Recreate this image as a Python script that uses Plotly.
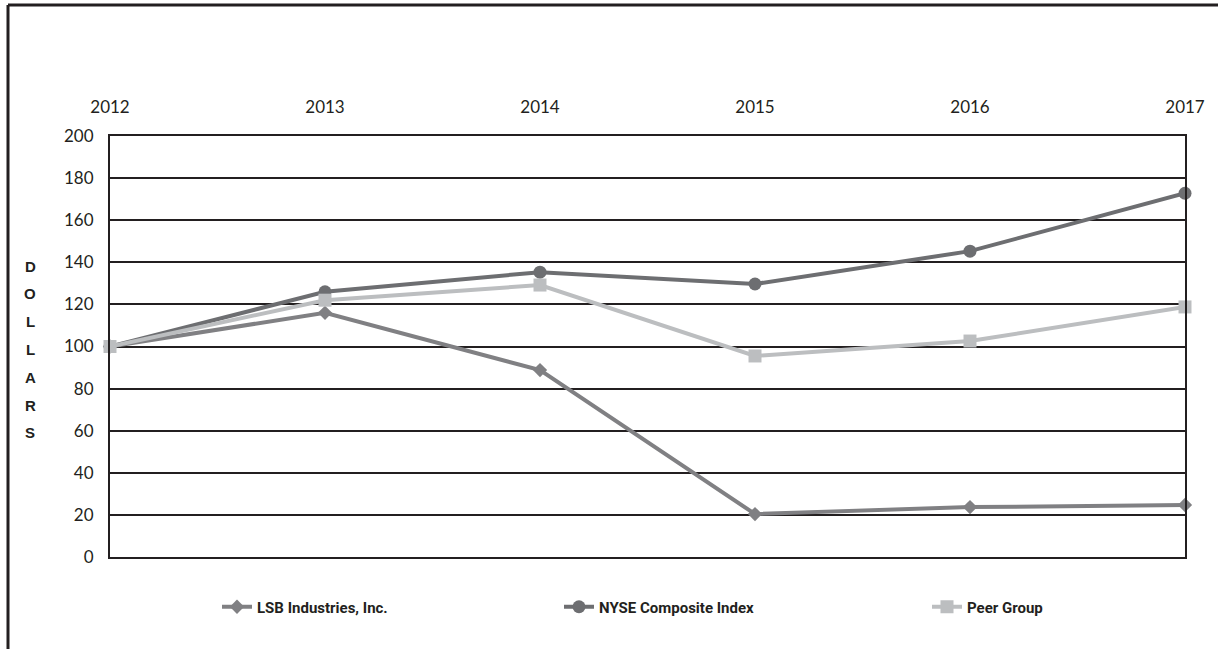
import plotly.graph_objects as go

years = [2012, 2013, 2014, 2015, 2016, 2017]
lsb = [100, 116, 88.8, 20.4, 23.7, 24.7]
nyse = [100, 126, 135.3, 129.7, 145.3, 172.8]
peer = [100, 122, 129.2, 95.5, 102.6, 118.8]
y_ticks = [0, 20, 40, 60, 80, 100, 120, 140, 160, 180, 200]
axis_label = "DOLLARS"

W, H = 1218, 649
ML, MR, MT, MB = 110, 33, 136, 92
PW, PH = W - ML - MR, H - MT - MB

def px_x(px):
    return (px - ML) / PW

def px_y(py):
    return (H - MB - py) / PH

dark = "#231f20"
fig = go.Figure()
fig.add_trace(go.Scatter(x=years, y=lsb, name="LSB Industries, Inc.", mode="lines+markers",
                         line=dict(color="#808083", width=4),
                         marker=dict(symbol="diamond", size=11, color="#808083"),
                         cliponaxis=False, legend="legend", showlegend=True))
fig.add_trace(go.Scatter(x=years, y=nyse, name="NYSE Composite Index", mode="lines+markers",
                         line=dict(color="#6d6e71", width=4),
                         marker=dict(symbol="circle", size=13, color="#6d6e71"),
                         cliponaxis=False, legend="legend2", showlegend=True))
fig.add_trace(go.Scatter(x=years, y=peer, name="Peer Group", mode="lines+markers",
                         line=dict(color="#bcbec0", width=4),
                         marker=dict(symbol="square", size=13, color="#bcbec0"),
                         cliponaxis=False, legend="legend3", showlegend=True))

legfont = dict(family="Roboto, Liberation Sans", size=15, color=dark, weight="bold")
leg_common = dict(orientation="h", yanchor="middle", xanchor="left", font=legfont,
                  bgcolor="rgba(0,0,0,0)", itemwidth=30, tracegroupgap=0, visible=True)
leg_y = px_y(607)

shapes = [
    dict(type="line", xref="paper", yref="paper", x0=px_x(8), x1=px_x(1220), y0=px_y(5), y1=px_y(5),
         line=dict(color=dark, width=3)),
    dict(type="line", xref="paper", yref="paper", x0=px_x(8), x1=px_x(8), y0=px_y(5), y1=px_y(652),
         line=dict(color=dark, width=3)),
]

annotations = []
for i, ch in enumerate(axis_label):
    annotations.append(dict(text=ch, xref="paper", yref="paper", x=px_x(30), y=px_y(266 + i * 27.8),
                            showarrow=False, xanchor="center", yanchor="middle",
                            font=dict(family="Liberation Sans", size=15, color=dark, weight="bold")))

fig.update_layout(
    width=W, height=H,
    margin=dict(l=ML, r=MR, t=MT, b=MB),
    paper_bgcolor="white", plot_bgcolor="white",
    showlegend=True,
    font=dict(family="Lato, Open Sans", size=17, color=dark),
    legend=dict(x=px_x(217), y=leg_y, **leg_common),
    legend2=dict(x=px_x(559), y=leg_y, **leg_common),
    legend3=dict(x=px_x(927), y=leg_y, **leg_common),
    shapes=shapes,
    annotations=annotations,
    xaxis=dict(range=[2012, 2017], tickvals=years, ticktext=[str(y) for y in years],
               side="top", showgrid=False, showline=True, mirror=True, linecolor=dark, linewidth=2,
               ticks="", ticklabelstandoff=14, tickfont=dict(size=17, color=dark), zeroline=False),
    yaxis=dict(range=[0, 200], tickvals=y_ticks, showgrid=True, gridcolor=dark, gridwidth=2,
               showline=True, mirror=True, linecolor=dark, linewidth=2, ticks="",
               ticklabelstandoff=11, tickfont=dict(size=17, color=dark), zeroline=False),
)

fig.write_html("out.html")
